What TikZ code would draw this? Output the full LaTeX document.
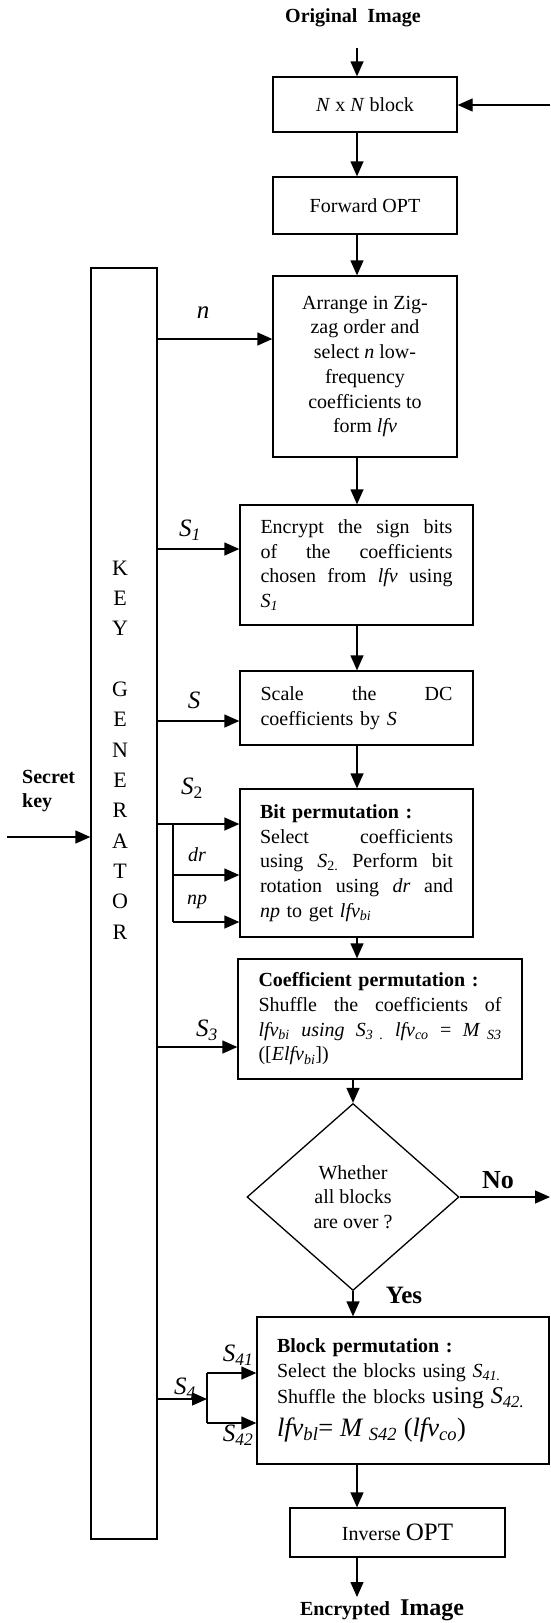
\documentclass[tikz,border=0pt]{standalone}
\usepackage{fontspec}
\setmainfont{Liberation Serif}
\usetikzlibrary{arrows.meta,shapes.geometric}
\newcommand\fb{\fontsize{20}{24.7}\selectfont}
\newcommand\hf{\hfill}
\begin{document}
\begin{tikzpicture}[x=1pt,y=-1pt,
  ln/.style={line width=1.3pt},
  box/.style={draw,line width=1.3pt,inner sep=0pt,font=\fb},
  arr/.style={line width=1.3pt,-{Triangle[length=15pt,width=13pt]}},
  lbl/.style={font=\fontsize{25}{28}\selectfont\itshape,inner sep=0pt},
  sml/.style={font=\fontsize{20}{24}\selectfont\itshape,inner sep=0pt},
  bld/.style={font=\fontsize{20}{24}\selectfont\bfseries,inner sep=0pt}]
\useasboundingbox (0,0) rectangle (550,1623);
% spine
\coordinate (spine) at (357,0);
% top
\node[bld] (orig) at (353,18) {Original\ \ Image};
\coordinate (inA) at (357,48);
\node[box,minimum width=184pt,minimum height=55pt] (nxn) at (365,104.5) {\textit{N} x \textit{N} block};
\coordinate (fb) at (550,105);
\node[box,minimum width=184pt,minimum height=57pt] (fwd) at (365,205.5) {Forward OPT};
\node[box,minimum width=184pt,minimum height=181pt,align=center] (zig) at (365,366.5)
  {Arrange in Zig-\\zag order and\\select \textit{n} low-\\frequency\\coefficients to\\form \textit{lfv}};
\node[box,minimum width=233pt,minimum height=120pt,text width=192pt,align=left] (enc) at (356.5,565)
  {Encrypt\hf the\hf sign\hf bits\\of\hf the\hf coefficients\\chosen\hf from\hf \textit{lfv}\hf using\\\textit{S}\textsubscript{\textit{1}}};
\node[box,minimum width=233pt,minimum height=74pt,text width=192pt,align=left] (scl) at (356.5,708)
  {Scale\hf the\hf DC\\coefficients by \textit{S}};
\node[box,minimum width=233pt,minimum height=148pt,text width=193pt,align=left] (bit) at (356.5,863)
  {\textbf{Bit permutation :}\\Select\hf coefficients\\using\hf \textit{S}\textsubscript{2.}\hf Perform\hf bit\\rotation\hf using\hf \textit{dr}\hf and\\\textit{np} to get \textit{lfv}\textsubscript{\textit{bi}}};
\node[box,minimum width=284pt,minimum height=120pt,text width=243pt,align=left] (coef) at (380,1019)
  {\textbf{Coefficient permutation :}\\Shuffle\hf the\hf coefficients\hf of\\\textit{lfv}\textsubscript{\textit{bi}}\hf\textit{using}\hf\textit{S}\textsubscript{\textit{3 .}}\hf\textit{lfv}\textsubscript{\textit{co}}\hf=\hf\textit{M} \textsubscript{\textit{S3}}\\([\textit{Elfv}\textsubscript{\textit{bi}}])};
\node[draw,ln,diamond,minimum width=212pt,minimum height=187pt,inner sep=0pt,align=center,font=\fb] (dec) at (353,1197)
  {Whether\\all\ blocks\\are over ?};
\coordinate (no) at (550,1197);
\node[box,minimum width=292pt,minimum height=147pt,text width=252pt,align=left] (blk) at (403,1390.5)
  {\textbf{Block permutation :}\\Select the blocks using \textit{S}\textsubscript{\textit{41.}}\\[2pt]Shuffle the blocks {\fontsize{24}{26}\selectfont using \textit{S}\textsubscript{\textit{42.}}}\\[8pt]{\fontsize{26.5}{28}\selectfont\itshape lfv\textsubscript{bl}\upshape= \itshape M \textsubscript{S42} \upshape(\itshape lfv\textsubscript{co}\upshape)}};
\node[box,minimum width=215pt,minimum height=49pt] (inv) at (397.5,1532.5) {Inverse {\fontsize{25}{28}\selectfont OPT}};
\coordinate (outc) at (357,1597);
\node[bld] (enci) at (382,1610) {Encrypted\ \ {\fontsize{24}{26}\selectfont Image}};
% key generator
\node[draw,ln,minimum width=66pt,minimum height=1271pt,inner sep=0pt] (kg) at (124,903.5) {};
\node[font=\fontsize{22}{30.33}\selectfont,align=center,inner sep=0pt] (kgt) at (120,750)
  {K\\E\\Y\\[30.33pt]G\\E\\N\\E\\R\\A\\T\\O\\R};
\node[font=\fontsize{20}{24}\selectfont\bfseries,align=left,inner sep=0pt,anchor=west] (sk) at (22,791) {Secret\\key};
\coordinate (skin) at (7,837);
% branch points
\coordinate (br2) at (173,824);
\coordinate (br4) at (207,1399);
% labels
\node[lbl] (ln) at (203,313) {n};
\node[lbl] (ls1) at (190,530) {S\textsubscript{1}};
\node[lbl] (ls) at (194,700) {S};
\node[lbl] (ls2) at (192,788) {S\textsubscript{\upshape 2}};
\node[sml] (ldr) at (197,855) {dr};
\node[sml] (lnp) at (197,902) {np};
\node[lbl] (ls3) at (207,1030) {S\textsubscript{3}};
\node[lbl] (ls4) at (185,1388) {S\textsubscript{4}};
\node[lbl] (ls41) at (238,1355) {S\textsubscript{41}};
\node[lbl] (ls42) at (238,1435) {S\textsubscript{42}};
\node[font=\fontsize{26}{28}\selectfont\bfseries,inner sep=0pt] (lno) at (498,1180) {No};
\node[font=\fontsize{25}{28}\selectfont\bfseries,inner sep=0pt] (lyes) at (404,1295) {Yes};
% main chain
\draw[arr] (inA) -- (nxn.north -| inA);
\draw[arr] (fb) -- (nxn.east |- fb);
\draw[arr] (nxn.south -| spine) -- (fwd.north -| spine);
\draw[arr] (fwd.south -| spine) -- (zig.north -| spine);
\draw[arr] (zig.south -| spine) -- (enc.north -| spine);
\draw[arr] (enc.south -| spine) -- (scl.north -| spine);
\draw[arr] (scl.south -| spine) -- (bit.north -| spine);
\draw[arr] (bit.south -| spine) -- (coef.north -| spine);
\draw[arr] (coef.south -| dec.north) -- (dec.north);
\draw[arr] (dec.east) -- (no);
\draw[arr] (dec.south) -- (blk.north -| dec.south);
\draw[arr] (blk.south -| spine) -- (inv.north -| spine);
\draw[arr] (inv.south -| spine) -- (outc);
% key inputs/outputs
\draw[arr] (skin) -- (kg.west |- skin);
\draw[arr] (kg.east |- 0,339) -- (zig.west |- 0,339);
\draw[arr] (kg.east |- 0,549) -- (enc.west |- 0,549);
\draw[arr] (kg.east |- 0,721) -- (scl.west |- 0,721);
\draw[arr] (kg.east |- br2) -- (bit.west |- br2);
\draw[ln] (br2) -- (173,922);
\draw[arr] (173,875) -- (bit.west |- 0,875);
\draw[arr] (173,922) -- (bit.west |- 0,922);
\draw[arr] (kg.east |- 0,1047) -- (coef.west |- 0,1047);
\draw[arr] (kg.east |- br4) -- (br4);
\draw[ln] (207,1373) -- (207,1423);
\draw[arr] (207,1373) -- (blk.west |- 0,1373);
\draw[arr] (207,1423) -- (blk.west |- 0,1423);
\end{tikzpicture}
\end{document}
